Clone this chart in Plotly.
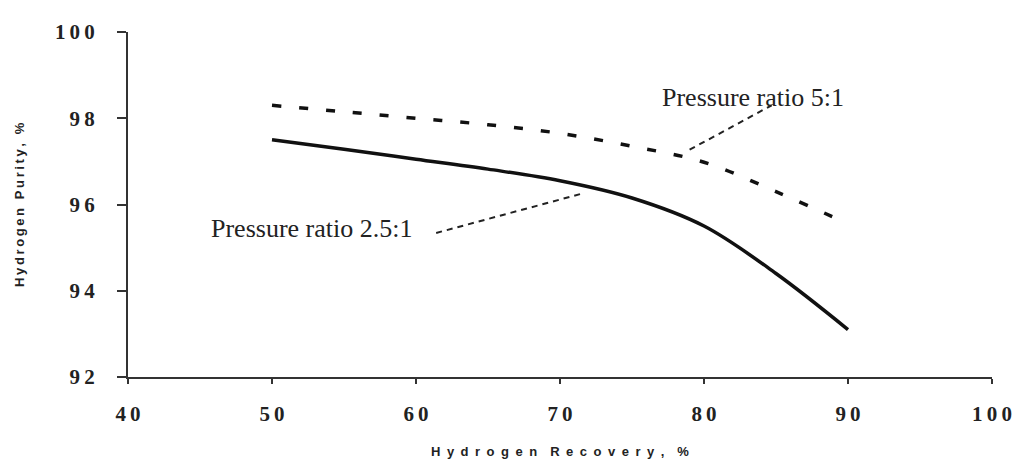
import plotly.graph_objects as go

# Data
recovery = [50, 55, 60, 65, 70, 75, 80, 85, 90]
purity_2_5 = [97.5, 97.28, 97.05, 96.82, 96.55, 96.15, 95.5, 94.4, 93.1]
purity_5 = [98.3, 98.15, 98.0, 97.85, 97.65, 97.35, 96.98, 96.3, 95.55]

TS = "\u2009"  # thin space used for the spaced-out digits
x_ticks = [40, 50, 60, 70, 80, 90, 100]
x_ticktext = [TS.join(str(v)) for v in x_ticks]
y_ticks = [92, 94, 96, 98, 100]
y_ticktext = [TS.join(str(v)) for v in y_ticks]

label_5 = "Pressure ratio 5:1"
label_2_5 = "Pressure ratio 2.5:1"
x_title = "\u2002\u2002".join("\u2002".join(w) for w in "Hydrogen Recovery, %".split(" "))
y_title = TS.join("Hydrogen Purity, %")
leader_5_x = [79.0, 84.7]
leader_5_y = [97.27, 98.3]
leader_2_5_x = [61.4, 71.5]
leader_2_5_y = [95.34, 96.25]

fig = go.Figure()
fig.add_trace(go.Scatter(x=recovery, y=purity_2_5, mode="lines", name=label_2_5,
                         line=dict(color="#111111", width=3.5, shape="spline")))
fig.add_trace(go.Scatter(x=recovery, y=purity_5, mode="lines", name=label_5,
                         line=dict(color="#111111", width=3.5, dash="9px,18px", shape="spline")))

# leader lines
fig.add_trace(go.Scatter(x=leader_5_x, y=leader_5_y, mode="lines", showlegend=False,
                         line=dict(color="#222222", width=2, dash="6px,5px")))
fig.add_trace(go.Scatter(x=leader_2_5_x, y=leader_2_5_y, mode="lines", showlegend=False,
                         line=dict(color="#222222", width=2, dash="6px,5px")))

fig.add_annotation(x=leader_5_x[1], y=leader_5_y[1], text=label_5, showarrow=False,
                   xanchor="center", yanchor="middle", xshift=-19, yshift=8,
                   font=dict(family="Liberation Serif", size=26, color="#222222"))
fig.add_annotation(x=leader_2_5_x[0], y=leader_2_5_y[0], text=label_2_5, showarrow=False,
                   xanchor="right", yanchor="middle", xshift=-22, yshift=4,
                   font=dict(family="Liberation Serif", size=26, color="#222222"))

fig.add_annotation(xref="paper", yref="paper", x=0.5, y=-0.216, text=x_title,
                   showarrow=False, xanchor="center", yanchor="middle",
                   font=dict(family="Liberation Sans", size=13, color="#222222", weight="bold"))
fig.add_annotation(xref="paper", yref="paper", x=-0.1257, y=0.5, text=y_title,
                   showarrow=False, xanchor="center", yanchor="middle", textangle=-90,
                   font=dict(family="Liberation Sans", size=13, color="#222222", weight="bold"))

# page body has an 8px margin, so the figure is sized/offset to land on the reference pixels
fig.update_layout(
    width=1016, height=457,
    margin=dict(l=120, r=21, t=17, b=88),
    paper_bgcolor="white", plot_bgcolor="white",
    showlegend=False,
)
fig.update_xaxes(range=[40, 100], tickvals=x_ticks, ticktext=x_ticktext,
                 showgrid=False, zeroline=False, showline=True, linecolor="#333333", linewidth=2,
                 ticks="outside", ticklen=5, tickwidth=2, tickcolor="#333333", ticklabelstandoff=12,
                 tickfont=dict(family="Liberation Serif", size=21, color="#222222", weight="bold"))
fig.update_yaxes(range=[92, 100], tickvals=y_ticks, ticktext=y_ticktext,
                 showgrid=False, zeroline=False, showline=True, linecolor="#333333", linewidth=2,
                 ticks="outside", ticklen=9, tickwidth=2, tickcolor="#333333", ticklabelstandoff=18,
                 tickfont=dict(family="Liberation Serif", size=21, color="#222222", weight="bold"))

fig.write_html("out.html")
